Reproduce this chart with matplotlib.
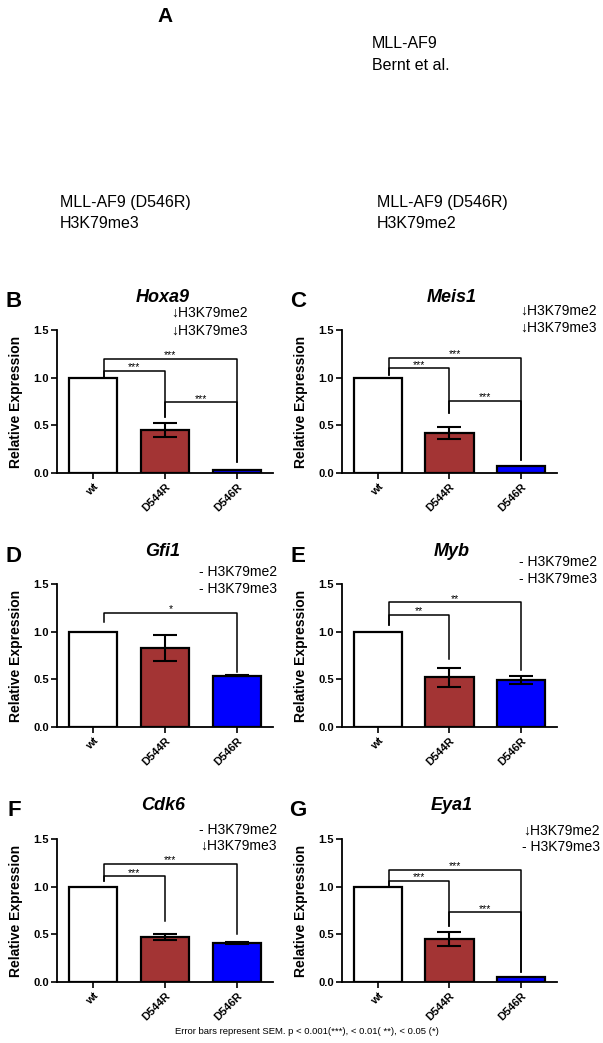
import numpy as np
import matplotlib
matplotlib.use('Agg')
import matplotlib.pyplot as plt

plt.rcParams['font.family'] = ['Liberation Sans', 'DejaVu Sans']

# Donnees
groups = ['wt', 'D544R', 'D546R']
bar_colors = ['white', '#a33434', '#0000ff']

genes = ['Hoxa9', 'Meis1', 'Gfi1', 'Myb', 'Cdk6', 'Eya1']
letters = ['B', 'C', 'D', 'E', 'F', 'G']

hoxa9_mean = [1.0, 0.45, 0.03]
hoxa9_sem = [0.0, 0.07, 0.0]
meis1_mean = [1.0, 0.42, 0.07]
meis1_sem = [0.0, 0.06, 0.0]
gfi1_mean = [1.0, 0.83, 0.54]
gfi1_sem = [0.0, 0.14, 0.01]
myb_mean = [1.0, 0.52, 0.49]
myb_sem = [0.0, 0.10, 0.04]
cdk6_mean = [1.0, 0.47, 0.41]
cdk6_sem = [0.0, 0.03, 0.01]
eya1_mean = [1.0, 0.45, 0.05]
eya1_sem = [0.0, 0.07, 0.0]

# marques de methylation (me2, me3)
hoxa9_marks = ['\u2193H3K79me2', '\u2193H3K79me3']
meis1_marks = ['\u2193H3K79me2', '\u2193H3K79me3']
gfi1_marks = ['- H3K79me2', '- H3K79me3']
myb_marks = ['- H3K79me2', '- H3K79me3']
cdk6_marks = ['- H3K79me2', '\u2193H3K79me3']
eya1_marks = ['\u2193H3K79me2', '- H3K79me3']

# crochets de significativite: (groupe1, groupe2, hauteur, fin gauche, fin droite, etoiles)
hoxa9_brackets = [(0, 1, 1.07, 1.01, 0.59, '***'), (0, 2, 1.20, 1.01, 0.12, '***'),
                  (1, 2, 0.74, 0.59, 0.12, '***')]
meis1_brackets = [(0, 1, 1.10, 1.03, 0.63, '***'), (0, 2, 1.21, 1.03, 0.14, '***'),
                  (1, 2, 0.76, 0.63, 0.14, '***')]
gfi1_brackets = [(0, 2, 1.20, 1.10, 0.58, '*')]
myb_brackets = [(0, 1, 1.175, 1.07, 0.71, '**'), (0, 2, 1.31, 1.07, 0.60, '**')]
cdk6_brackets = [(0, 1, 1.11, 1.06, 0.64, '***'), (0, 2, 1.24, 1.06, 0.50, '***')]
eya1_brackets = [(0, 1, 1.06, 1.01, 0.59, '***'), (0, 2, 1.18, 1.01, 0.105, '***'),
                 (1, 2, 0.73, 0.59, 0.105, '***')]

means = [hoxa9_mean, meis1_mean, gfi1_mean, myb_mean, cdk6_mean, eya1_mean]
sems = [hoxa9_sem, meis1_sem, gfi1_sem, myb_sem, cdk6_sem, eya1_sem]
marks = [hoxa9_marks, meis1_marks, gfi1_marks, myb_marks, cdk6_marks, eya1_marks]
brackets = [hoxa9_brackets, meis1_brackets, gfi1_brackets, myb_brackets,
            cdk6_brackets, eya1_brackets]

W, H = 603, 1043
fig = plt.figure(figsize=(W / 100, H / 100), dpi=100)


def fx(px):
    return px / W


def fy(py):
    return 1 - py / H


# Panneau A (texte seulement)
fig.text(fx(165), fy(17), 'A', fontsize=15, fontweight='bold', ha='center', va='center')
fig.text(fx(372), fy(44), 'MLL-AF9', fontsize=11.5, va='center')
fig.text(fx(372), fy(65), 'Bernt et al.', fontsize=11.5, va='center')
fig.text(fx(60), fy(203), 'MLL-AF9 (D546R)', fontsize=11.5, va='center')
fig.text(fx(60), fy(224), 'H3K79me3', fontsize=11.5, va='center')
fig.text(fx(377), fy(203), 'MLL-AF9 (D546R)', fontsize=11.5, va='center')
fig.text(fx(377), fy(224), 'H3K79me2', fontsize=11.5, va='center')

col_x = [(57, 273), (342, 557)]
row_top = [330, 584, 839]
ax_h = 143
title_x = [163, 452]
mark_right = [248, 597, 277, 597, 277, 600]
mark_y = [(313, 331), (311, 328), (572, 589), (562, 579), (830, 846), (831, 847)]
letter_x = [14, 298]
WT_OFFSET = 0.15

for k in range(6):
    row, col = divmod(k, 2)
    x0, x1 = col_x[col]
    top = row_top[row]
    ax = fig.add_axes([fx(x0), fy(top + ax_h), (x1 - x0) / W, ax_h / H])

    x = np.arange(len(groups))
    ax.bar(x, means[k], width=0.67, color=bar_colors, edgecolor='black',
           linewidth=1.6, zorder=2)
    sem = np.array(sems[k])
    m = sem > 0
    ax.errorbar(x[m], np.array(means[k])[m], yerr=sem[m], fmt='none', ecolor='black',
                elinewidth=1.5, capsize=8.5, capthick=1.5, zorder=3)

    for (i, j, h, le, re, lab) in brackets[k]:
        xl = i + WT_OFFSET if i == 0 else i
        ax.plot([xl, xl, j, j], [le, h, h, re], color='black', lw=1.1,
                clip_on=False, zorder=4)
        ax.text((xl + j) / 2, h + 0.005, lab, ha='center', va='baseline', fontsize=7.5)

    ax.set_xlim(-0.5, 2.5)
    ax.set_ylim(0, 1.5)
    ax.set_yticks([0, 0.5, 1.0, 1.5])
    ax.set_yticklabels(['0.0', '0.5', '1.0', '1.5'], fontsize=8, fontweight='bold')
    ax.set_xticks(x)
    ax.set_xticklabels(groups, rotation=45, ha='right', va='top', rotation_mode='anchor',
                       fontsize=8, fontweight='bold')
    ax.tick_params(axis='both', direction='out', length=4, width=1.2, pad=2)
    for s in ['top', 'right']:
        ax.spines[s].set_visible(False)
    for s in ['left', 'bottom']:
        ax.spines[s].set_linewidth(1.3)
    ax.set_ylabel('Relative Expression', fontsize=10, fontweight='bold')
    ax.yaxis.set_label_coords(-0.157, 0.5)

    # titre du gene et lettre du panneau
    fig.text(fx(title_x[col]), fy(top - 33), genes[k], fontsize=13,
             fontweight='bold', style='italic', ha='center', va='center')
    fig.text(fx(letter_x[col]), fy(top - 28), letters[k], fontsize=16,
             fontweight='bold', ha='center', va='center')

    for t, yy in zip(marks[k], mark_y[k]):
        fig.text(fx(mark_right[k]), fy(yy), t, fontsize=10, ha='right', va='center')

fig.text(fx(307), fy(1032), 'Error bars represent SEM. p < 0.001(***), < 0.01( **), < 0.05 (*)',
         fontsize=6.8, ha='center', va='center')

fig.savefig('out.png', dpi=100)
